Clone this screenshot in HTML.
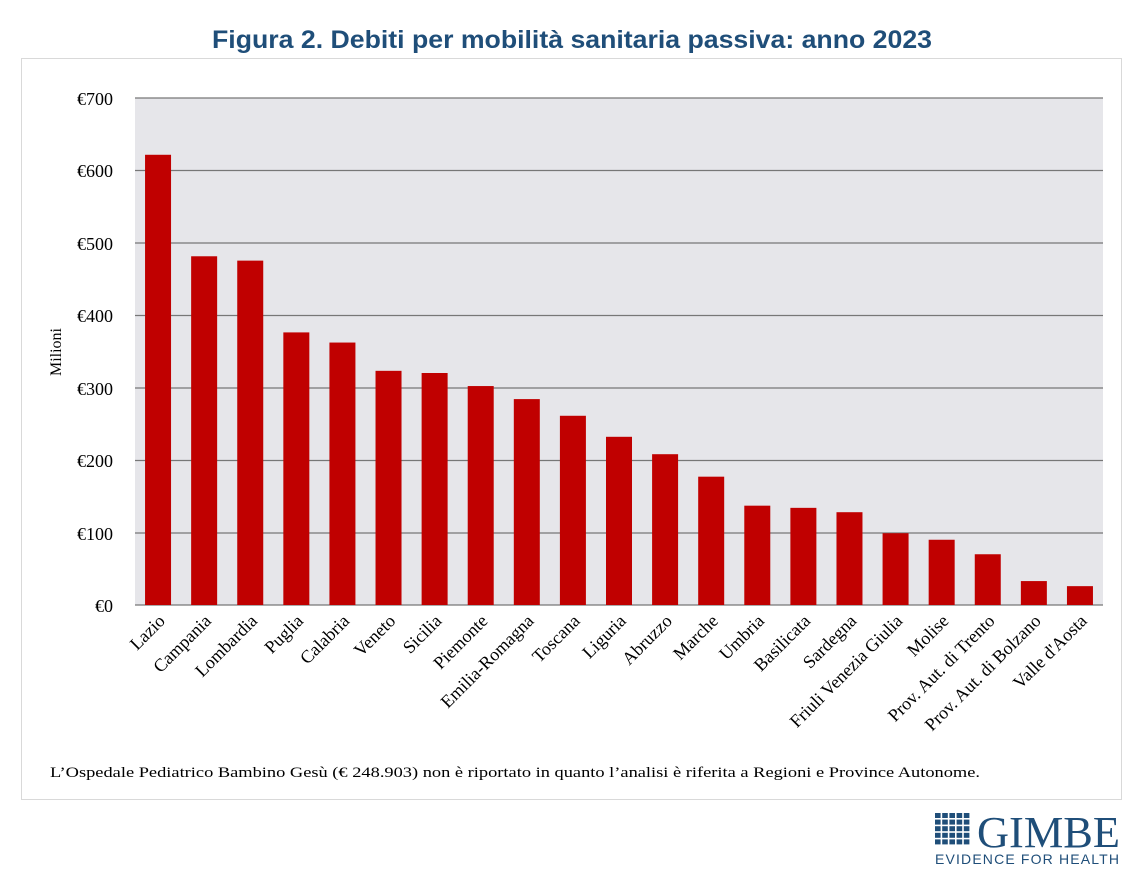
<!DOCTYPE html>
<html><head><meta charset="utf-8"><style>
body{margin:0;background:#fff;width:1143px;height:886px;overflow:hidden}
</style></head><body>
<svg width="1143" height="886" xmlns="http://www.w3.org/2000/svg" font-family="Liberation Serif, serif">
<text x="212" y="48" font-family="Liberation Sans, sans-serif" font-weight="bold" font-size="25" fill="#1f4e79" textLength="720" lengthAdjust="spacingAndGlyphs">Figura 2. Debiti per mobilità sanitaria passiva: anno 2023</text>
<rect x="21.5" y="58.5" width="1100" height="741" fill="#fff" stroke="#d9d9d9"/>
<rect x="135" y="98" width="968" height="507" fill="#e6e6ea"/>
<g stroke="#777" stroke-width="1.3">
<line x1="135" x2="1103" y1="98" y2="98"/><line x1="135" x2="1103" y1="170.5" y2="170.5"/><line x1="135" x2="1103" y1="243" y2="243"/><line x1="135" x2="1103" y1="315.5" y2="315.5"/><line x1="135" x2="1103" y1="388" y2="388"/><line x1="135" x2="1103" y1="460.5" y2="460.5"/><line x1="135" x2="1103" y1="533" y2="533"/><line x1="135" x2="1103" y1="605" y2="605"/>
</g>
<g font-size="18" text-anchor="end" fill="#000">
<text x="113" y="105">€700</text><text x="113" y="177">€600</text><text x="113" y="250">€500</text><text x="113" y="322">€400</text><text x="113" y="395">€300</text><text x="113" y="467">€200</text><text x="113" y="540">€100</text><text x="113" y="612">€0</text>
</g>
<text transform="translate(61,352) rotate(-90)" text-anchor="middle" font-size="16">Milioni</text>
<g id="bars" fill="#c00000"></g>
<g id="labels" font-size="18" text-anchor="end"></g>
<text x="50" y="777" font-size="15" textLength="930" lengthAdjust="spacingAndGlyphs">L’Ospedale Pediatrico Bambino Gesù (€ 248.903) non è riportato in quanto l’analisi è riferita a Regioni e Province Autonome.</text>
<g fill="#1f4e79">
<g id="icon"></g>
<text x="977" y="847" font-size="44" textLength="143" lengthAdjust="spacingAndGlyphs">GIMBE</text>
<text x="935" y="864" font-family="Liberation Sans, sans-serif" font-size="14" textLength="184" lengthAdjust="spacing">EVIDENCE FOR HEALTH</text>
</g>
</svg>
<script>
var names=["Lazio","Campania","Lombardia","Puglia","Calabria","Veneto","Sicilia","Piemonte","Emilia-Romagna","Toscana","Liguria","Abruzzo","Marche","Umbria","Basilicata","Sardegna","Friuli Venezia Giulia","Molise","Prov. Aut. di Trento","Prov. Aut. di Bolzano","Valle d'Aosta"];
var vals=[621,481,475,376,362,323,320,302,284,261,232,208,177,137,134,128,99,90,70,33,26];
var ns="http://www.w3.org/2000/svg",b=document.getElementById("bars"),l=document.getElementById("labels");
var step=968/21;
for(var i=0;i<21;i++){var c=135+step*(i+0.5),h=vals[i]*0.725;
var r=document.createElementNS(ns,"rect");r.setAttribute("x",c-13);r.setAttribute("width",26);r.setAttribute("y",605-h);r.setAttribute("height",h);b.appendChild(r);
var t=document.createElementNS(ns,"text");t.setAttribute("transform","translate("+(c+8)+",622) rotate(-45)");t.textContent=names[i];l.appendChild(t);}
var ic=document.getElementById("icon");
for(var y=0;y<5;y++)for(var x=0;x<5;x++){var r=document.createElementNS(ns,"rect");r.setAttribute("x",935+x*7.2);r.setAttribute("y",813+y*6.6);r.setAttribute("width",5.6);r.setAttribute("height",5);ic.appendChild(r);}
</script>
</body></html>
